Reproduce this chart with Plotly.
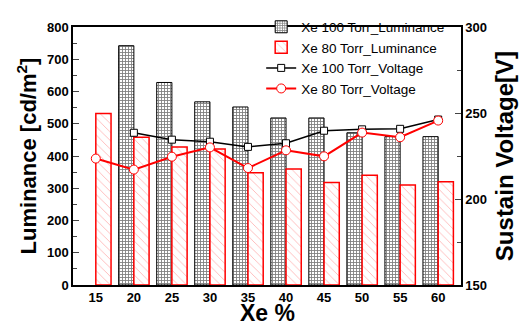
import plotly.graph_objects as go

xe_all = [15, 20, 25, 30, 35, 40, 45, 50, 55, 60]
xe_100 = [20, 25, 30, 35, 40, 45, 50, 55, 60]
lum_100 = [742, 628, 568, 552, 518, 518, 472, 460, 460]
lum_80 = [532, 458, 428, 422, 348, 360, 318, 340, 310, 320]
volt_100 = [238.5, 234.5, 233.3, 230.3, 232.4, 239.7, 240.5, 240.8, 246.2]
volt_80 = [223.5, 217.1, 224.6, 230.0, 218.0, 228.3, 224.8, 238.6, 235.9, 245.6]

FONT = "Liberation Sans, Arial, sans-serif"

fig = go.Figure()
fig.add_trace(go.Bar(
    x=xe_100, y=lum_100, name="Xe 100 Torr_Luminance",
    width=2, offset=-2,
    marker=dict(color="white", line=dict(color="black", width=1),
                pattern=dict(shape="+", fgcolor="black", bgcolor="white", size=3, solidity=0.5)),
))
fig.add_trace(go.Bar(
    x=xe_all, y=lum_80, name="Xe 80 Torr_Luminance",
    width=2, offset=0,
    marker=dict(color="white", line=dict(color="red", width=1.5),
                pattern=dict(shape="\\", fgcolor="#ff7070", bgcolor="white", size=6, solidity=0.15)),
))
fig.add_trace(go.Scatter(
    x=xe_100, y=volt_100, name="Xe 100 Torr_Voltage", yaxis="y2",
    mode="lines+markers", line=dict(color="black", width=1.5),
    marker=dict(symbol="square", size=7, color="white", line=dict(color="black", width=1)),
))
fig.add_trace(go.Scatter(
    x=xe_all, y=volt_80, name="Xe 80 Torr_Voltage", yaxis="y2",
    mode="lines+markers", line=dict(color="red", width=2),
    marker=dict(symbol="circle", size=9, color="white", line=dict(color="red", width=1)),
))

fig.add_annotation(
    text="Xe %", xref="paper", yref="paper", x=0.5, y=-0.167,
    xanchor="center", yanchor="bottom", showarrow=False,
    font=dict(size=23, family=FONT, weight="bold", color="black"),
)

fig.update_layout(
    width=523, height=331,
    margin=dict(l=73, r=62, t=13, b=46),
    paper_bgcolor="white", plot_bgcolor="white",
    barmode="overlay",
    font=dict(family=FONT, color="black"),
    showlegend=True,
    legend=dict(x=0.485, y=1.06, xanchor="left", yanchor="top",
                bgcolor="rgba(0,0,0,0)", font=dict(size=13.5, family=FONT),
                tracegroupgap=0, itemwidth=30),
    xaxis=dict(
        range=[12, 63], tickvals=xe_all, ticks="", automargin=False,
        showline=True, linecolor="black", linewidth=1.5, mirror=True,
        showgrid=False, zeroline=False, ticklabelstandoff=0,
        tickfont=dict(size=13, family=FONT, weight="bold"),
    ),
    yaxis=dict(
        range=[0, 800], dtick=100, ticks="inside", ticklen=6, tickwidth=1, automargin=False,
        minor=dict(dtick=50, ticks="inside", ticklen=4),
        showline=True, linecolor="black", linewidth=1.5,
        showgrid=False, zeroline=False,
        tickfont=dict(size=13, family=FONT, weight="bold"),
        title=dict(text="Luminance [cd/m<sup>2</sup>]", font=dict(size=22, family=FONT, weight="bold"), standoff=4),
    ),
    yaxis2=dict(
        range=[150, 300], dtick=50, overlaying="y", side="right", automargin=False,
        ticks="inside", ticklen=6, tickwidth=1,
        minor=dict(dtick=25, ticks="inside", ticklen=4),
        showline=True, linecolor="black", linewidth=1.5,
        showgrid=False, zeroline=False,
        tickfont=dict(size=13, family=FONT, weight="bold"),
        title=dict(text="Sustain Voltage[V]", font=dict(size=24, family=FONT, weight="bold"), standoff=10),
    ),
)

fig.write_html("out.html")
